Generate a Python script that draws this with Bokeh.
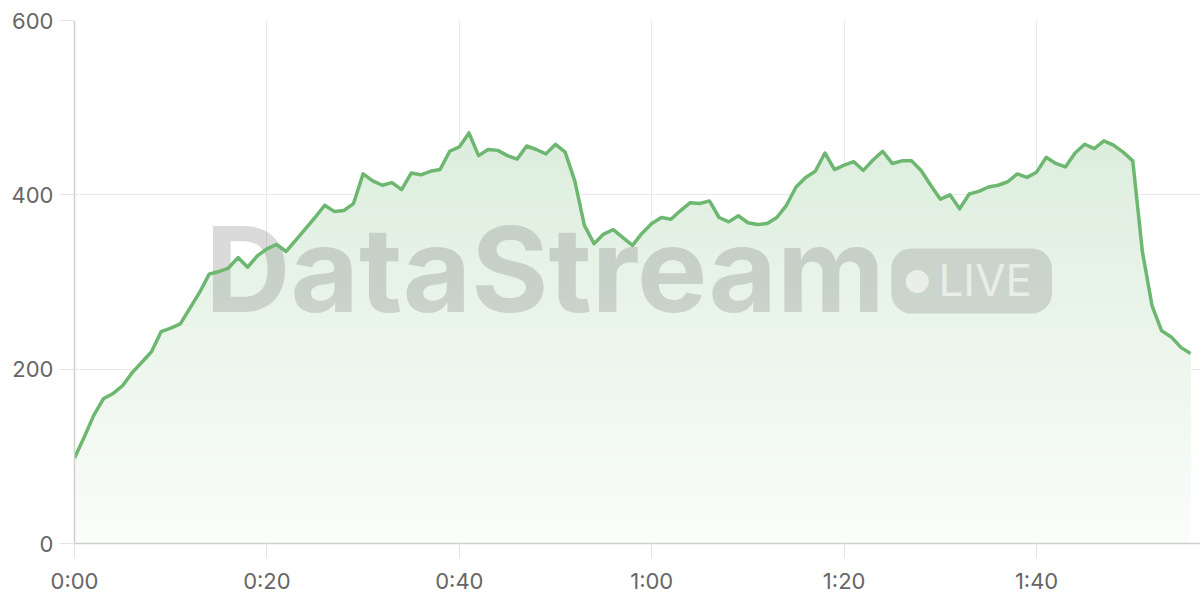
import numpy as np
from bokeh.plotting import figure
from bokeh.models import Range1d, FixedTicker, BoxAnnotation
from bokeh.core.properties import value
from bokeh.embed import file_html
from bokeh.resources import INLINE

# ---- data ----
seconds = list(range(117))
viewers = [98, 122, 147, 166, 172, 181, 196, 208, 220, 243,
           247, 252, 270, 288, 309, 312, 316, 328, 317, 330,
           338, 343, 335, 348, 361, 374, 388, 381, 382, 390,
           424, 416, 411, 414, 406, 425, 423, 427, 429, 450,
           455, 471, 445, 452, 451, 445, 441, 456, 452, 447,
           458, 449, 416, 365, 344, 355, 360, 351, 342, 356,
           367, 374, 372, 382, 391, 390, 393, 374, 369, 376,
           368, 366, 367, 374, 388, 409, 420, 427, 448, 429,
           434, 438, 428, 440, 450, 436, 439, 439, 428, 411,
           395, 400, 384, 401, 404, 409, 411, 415, 424, 420,
           426, 443, 436, 432, 448, 458, 453, 462, 457, 449,
           439, 335, 273, 244, 237, 225, 218]
x_ticks = [0, 20, 40, 60, 80, 100]
x_tick_labels = ["0:00", "0:20", "0:40", "1:00", "1:20", "1:40"]
y_ticks = [0, 200, 400, 600]
y_tick_labels = ["0", "200", "400", "600"]
brand_text = ["DataStream"]
badge_text = ["LIVE"]

GREEN_RGB = (109, 183, 113)
GREEN = "#6db771"
LABEL = "#666666"
FONT = "Inter"


def blend(alpha):
    r, g, b = (round(255 - alpha * (255 - c)) for c in GREEN_RGB)
    return f"#{r:02x}{g:02x}{b:02x}"


p = figure(width=1200, height=600, output_backend="svg", toolbar_location=None,
           x_range=Range1d(0, 117.04), y_range=Range1d(0, 600),
           min_border_left=74, min_border_right=0, min_border_top=20,
           min_border_bottom=57)
p.outline_line_color = None
p.background_fill_color = "white"
p.border_fill_color = "white"

# gradient fill under the curve: opaque layers stacked from bottom to top
vals = np.array(viewers, dtype=float)
for lo in np.arange(0, 480, 10):
    a = 0.03 + 0.27 * (lo + 5) / 600.0
    p.varea(x=seconds, y1=np.minimum(vals, lo), y2=vals,
            fill_color=blend(a), fill_alpha=1.0)

# watermark
p.text(x=[13.6], y=[315.0], text=brand_text, text_font=value(FONT),
       text_font_style="bold", text_font_size="118px", text_color="#7a7a7a",
       text_alpha=0.28, text_align="left", text_baseline="alphabetic")
badge = BoxAnnotation(left=84.9, right=101.6, bottom=263.9, top=338.4,
                      border_radius=20, fill_color="#7a7a7a", fill_alpha=0.26,
                      line_alpha=0, level="annotation")
p.add_layout(badge)
dot = p.scatter(x=[87.6], y=[300.6], marker="circle", size=23,
                fill_color="white", fill_alpha=0.6, line_alpha=0)
dot.level = "overlay"
live = p.text(x=[89.8], y=[302.5], text=badge_text, text_font=value(FONT),
              text_font_size="44px", text_color="white", text_alpha=0.6,
              text_align="left", text_baseline="alphabetic")
live.level = "overlay"

# line
p.line(seconds, viewers, line_color=GREEN, line_width=3.5, line_join="round")

# axes & grid
p.xaxis.ticker = FixedTicker(ticks=x_ticks)
p.xaxis.major_label_overrides = dict(zip(x_ticks, x_tick_labels))
p.yaxis.ticker = FixedTicker(ticks=y_ticks)
p.yaxis.major_label_overrides = dict(zip(y_ticks, y_tick_labels))
p.xgrid.ticker = FixedTicker(ticks=x_ticks)
p.ygrid.ticker = FixedTicker(ticks=y_ticks)
p.grid.grid_line_color = "#e8e8e8"
p.grid.grid_line_width = 1
p.grid.level = "underlay"

for ax in (p.xaxis[0], p.yaxis[0]):
    ax.axis_line_color = "#cfcfcf"
    ax.axis_line_width = 1.5
    ax.major_tick_line_color = "#e4e4e4"
    ax.major_tick_in = 0
    ax.major_tick_out = 15
    ax.minor_tick_line_color = None
    ax.major_label_text_font = FONT
    ax.major_label_text_font_size = "22px"
    ax.major_label_text_color = LABEL
p.xaxis.major_label_standoff = 9
p.yaxis.major_label_standoff = 6

open("out.html", "w").write(file_html(p, INLINE))
